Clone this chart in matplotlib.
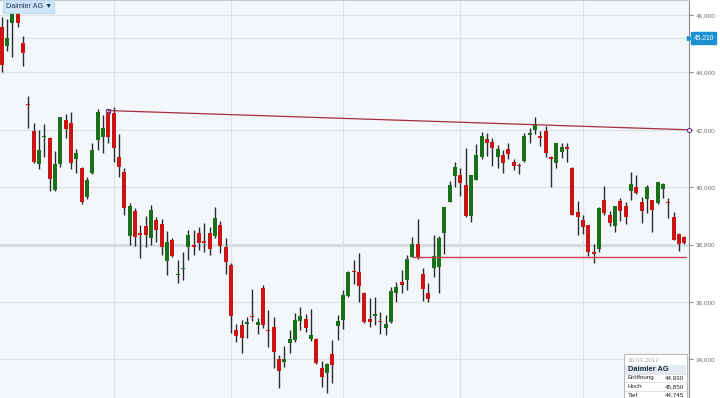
import matplotlib
matplotlib.use("Agg")
import matplotlib.pyplot as plt
import matplotlib.patches as patches
from matplotlib.ticker import FuncFormatter
import numpy as np
import pandas as pd

plt.rcParams["font.family"] = ["Liberation Sans", "DejaVu Sans"]

# trading days shown (Xetra, end of March to end of September 2012)
dates = pd.bdate_range("2012-03-29", "2012-09-28")
dates = dates.drop(pd.to_datetime(["2012-04-06", "2012-04-09", "2012-05-01"]))

# daily OHLC (EUR)
opens = [45580, 44930, 45730, 46110, 45040, 42870, 41960, 40820, 41740, 41700,
         39900, 40810, 42340, 42250, 40970, 40660, 39650, 40510, 41630, 41740,
         42630, 42580, 41060, 40540, 38300, 39180, 38370, 38650, 38220, 38860,
         38720, 37440, 38160, 36950, 37150, 37900, 37970, 38390, 38120, 38420,
         38300, 38680, 37920, 37290, 35030, 35200, 35230, 35510, 35200, 36490,
         35000, 35120, 34000, 33900, 34560, 34660, 35340, 35400, 34710, 34700,
         33690, 33520, 34190, 35170, 35370, 36210, 37080, 37060, 36300, 35410,
         35520, 35320, 35090, 35320, 36330, 36690, 36770, 37560, 38020, 36980,
         36300, 37180, 37210, 38420, 39500, 40390, 40430, 40080, 39000, 40250,
         41060, 41670, 41580, 41040, 41120, 41320, 40890, 40740, 40920, 41810,
         41990, 41780, 41970, 41060, 40830, 41240, 41390, 40660, 39130, 38860,
         38680, 37700, 37840, 39560, 39030, 38650, 39530, 39350, 39880, 40000,
         39500, 39580, 39560, 39440, 39940, 39500, 38970, 38360, 38260]
highs = [45930, 45850, 46300, 46250, 45270, 43180, 42230, 42000, 42200, 41760,
         41270, 42440, 42550, 42630, 41320, 40690, 40350, 41550, 42710, 42520,
         42670, 42780, 41860, 40660, 39440, 39270, 38680, 38980, 39380, 38950,
         38880, 38490, 38220, 37470, 37760, 38520, 38500, 38630, 38740, 38630,
         39300, 38830, 38220, 37350, 35230, 35370, 35490, 36440, 35430, 36590,
         35720, 35470, 34150, 34470, 35030, 35630, 35820, 35580, 35750, 34740,
         33960, 33870, 34680, 35550, 36420, 37080, 37460, 37700, 36360, 36150,
         36170, 35660, 35550, 36510, 36710, 37120, 37640, 38260, 38880, 37180,
         36650, 38340, 38300, 39310, 40230, 40890, 40660, 41360, 40430, 41510,
         41930, 41880, 41700, 41470, 41300, 41550, 40970, 40850, 41880, 42050,
         42440, 41970, 42130, 41090, 41550, 41550, 41550, 40720, 39530, 39030,
         38700, 38020, 39300, 40040, 39170, 39360, 39610, 39500, 40540, 40430,
         39650, 40080, 39570, 40180, 40140, 39610, 39150, 38390, 38300]
lows = [44010, 44745, 44550, 45590, 44220, 42050, 40830, 40640, 41060, 39880,
        39880, 40690, 41710, 40640, 40510, 39420, 39580, 40460, 41300, 41200,
        41550, 40890, 40370, 39030, 37980, 37940, 37520, 37920, 37980, 38100,
        37630, 36940, 37580, 36670, 36770, 37470, 37630, 37810, 37760, 37630,
        38220, 37700, 36990, 34930, 34620, 34240, 34740, 35350, 34890, 35080,
        34440, 33690, 32990, 33750, 34240, 34620, 35030, 34960, 34650, 33840,
        33030, 32840, 33190, 34680, 35050, 36180, 36630, 36000, 35280, 35120,
        35200, 34890, 34850, 35280, 36010, 36330, 36420, 37560, 37490, 36050,
        36010, 36860, 36330, 37670, 39490, 40020, 39690, 38950, 38800, 40240,
        40970, 41090, 40740, 40660, 40510, 40970, 40600, 40460, 40890, 41550,
        41850, 41440, 41040, 40000, 40660, 41010, 40890, 39020, 38340, 38370,
        37600, 37350, 37750, 39030, 38650, 38450, 38830, 38720, 39560, 39780,
        38760, 39110, 38450, 39430, 39610, 38920, 38150, 37790, 38020]
closes = [44260, 45210, 46110, 45730, 44690, 42860, 40890, 41290, 41750, 40280,
          40810, 42440, 42020, 40850, 41200, 39500, 40250, 41300, 42630, 42050,
          41760, 41360, 40690, 39270, 39350, 38250, 38350, 38340, 39200, 38510,
          37920, 38100, 37600, 36970, 37170, 38320, 37910, 38070, 38050, 37840,
          38920, 37950, 37400, 35510, 34820, 34740, 35320, 35470, 35300, 35200,
          34990, 34270, 33610, 34000, 34710, 35370, 35510, 35080, 34850, 33860,
          33400, 33840, 33810, 35340, 36250, 37060, 37040, 36560, 35320, 35290,
          35580, 35310, 35230, 36400, 36530, 36590, 37490, 38020, 37520, 36440,
          36100, 37600, 38220, 39300, 40080, 40690, 40160, 39000, 40420, 41120,
          41780, 41530, 41360, 41320, 40830, 41160, 40740, 40730, 41780, 41880,
          42170, 41700, 41180, 40970, 41530, 41410, 41320, 39030, 38970, 38600,
          37750, 37690, 39270, 39090, 38740, 39350, 39170, 38950, 40110, 39790,
          39180, 40020, 39210, 40170, 40100, 39440, 38160, 38020, 38050]

# user drawn lines: (start index, start price, end index, end price)
resistance = [20, 42670, 128.9, 42000]
support = [77.2, 37580, 128.4, 37580]

hover_day = "30.03.2012"
hover_close = 45210
price_ticks = [34000, 36000, 38000, 40000, 42000, 44000, 46000]

RED = "#cc1414"
GREEN = "#187018"

o = np.array(opens)
h = np.array(highs)
l = np.array(lows)
c = np.array(closes)
x = np.arange(len(o))

fig = plt.figure(figsize=(7.2, 3.98), dpi=100, facecolor="white")
ax = fig.add_axes([0, 0, 689 / 720, 1])
ax.set_facecolor("#f4f7fa")
ax.set_xlim(-0.32, 128.88)
ax.set_ylim(32656, 46523)

# grid: prices every 2000, months as vertical lines
for p in price_ticks:
    ax.axhline(p, color="#dce2e7", lw=0.9, zorder=0)
ax.axhline(38000, color="#cfdbe5", lw=2.0, zorder=0)
ax.axhline(hover_close, color="#dce2e7", lw=0.9, zorder=0)
month_start = np.flatnonzero(np.r_[False, dates.month[1:] != dates.month[:-1]])
for m in month_start:
    if m > 5:
        ax.axvline(m, color="#dce2e7", lw=0.9, zorder=0)

# candles
up = c >= o
cols = np.where(up, GREEN, RED)
ax.vlines(x, l, h, color="#2b2b2b", lw=1, zorder=2)
body_lo = np.minimum(o, c)
body_h = np.maximum(np.abs(c - o), 40)
ax.bar(x, body_h, bottom=body_lo, width=0.76, color=cols, zorder=3, linewidth=0)

# trend lines
ax.plot(resistance[0::2], resistance[1::2], color="#a3303c", lw=0.9, zorder=4)
ax.plot(resistance[0], resistance[1], marker="s", ms=3, mfc="none", mec="#6a3a8a", mew=0.8, zorder=5)
ax.plot(resistance[2], resistance[3], marker="o", ms=3, mfc="#f4f7fa", mec="#6a3a8a", mew=0.8,
        zorder=5, clip_on=False)
ax.plot(support[0::2], support[1::2], color="#c8404e", lw=1.0, zorder=4)

# right price axis
for s in ["left", "bottom"]:
    ax.spines[s].set_visible(False)
ax.spines["top"].set_color("#c4c8cc")
ax.spines["top"].set_linewidth(1.5)
ax.spines["right"].set_color("#8c8c8c")
ax.set_xticks([])
ax.set_yticks(price_ticks)
ax.yaxis.set_major_formatter(FuncFormatter(lambda v, pos: f"{v:,.0f}"))
ax.tick_params(axis="y", left=False, labelleft=False, right=True, labelright=True,
               length=3, width=0.8, color="#8c8c8c", labelsize=4.6, labelcolor="#707070", pad=2)

# current value tag on the axis
ax.annotate(f"{hover_close:,}", xy=(1.0, hover_close), xycoords=("axes fraction", "data"),
            xytext=(3.2, 0), textcoords="offset points", ha="left", va="center",
            fontsize=4.8, color="white",
            bbox=dict(boxstyle="square,pad=0.4", fc="#1b8fd2", ec="#1b8fd2"),
            annotation_clip=False, zorder=6)
ax.plot(1.0, hover_close, marker=">", ms=3, color="#1b8fd2", transform=ax.get_yaxis_transform(),
        clip_on=False, zorder=6)

# overlay in pixel units for the title tag and tooltip
ov = fig.add_axes([0, 0, 1, 1], facecolor="none")
ov.set_xlim(0, 720)
ov.set_ylim(398, 0)
ov.axis("off")

ov.add_patch(patches.Rectangle((3, 0), 51, 12.5, fc="#cde5f6", ec="#b8d6ee", lw=0.6))
ov.text(6, 6.5, "Daimler AG ▼", fontsize=5.2, color="#1f3b5e", va="center", ha="left")

ov.add_patch(patches.Rectangle((624, 354), 63, 46, fc="white", ec="#b8bcc0", lw=0.8))
ov.add_patch(patches.Rectangle((625, 365), 61, 8.5, fc="#e4ebf3", ec="none"))
ov.text(627.5, 360, hover_day, fontsize=4.6, color="#b0b0b0", va="center")
ov.text(627.5, 369.5, "Daimler AG", fontsize=5.4, color="#1c2a3a", fontweight="bold", va="center")
rows = [("Eröffnung", opens[1]), ("Hoch", highs[1]), ("Tief", lows[1])]
for i, (name, val) in enumerate(rows):
    yy = 378 + i * 8.6
    ov.plot([625, 686], [yy - 4.3, yy - 4.3], color="#d6d9dc", lw=0.5)
    ov.text(627.5, yy, name, fontsize=4.5, color="#222222", va="center")
    ov.text(684, yy, f"{val:,}", fontsize=4.5, color="#222222", va="center", ha="right")

fig.savefig("out.png", dpi=100, facecolor="white")
